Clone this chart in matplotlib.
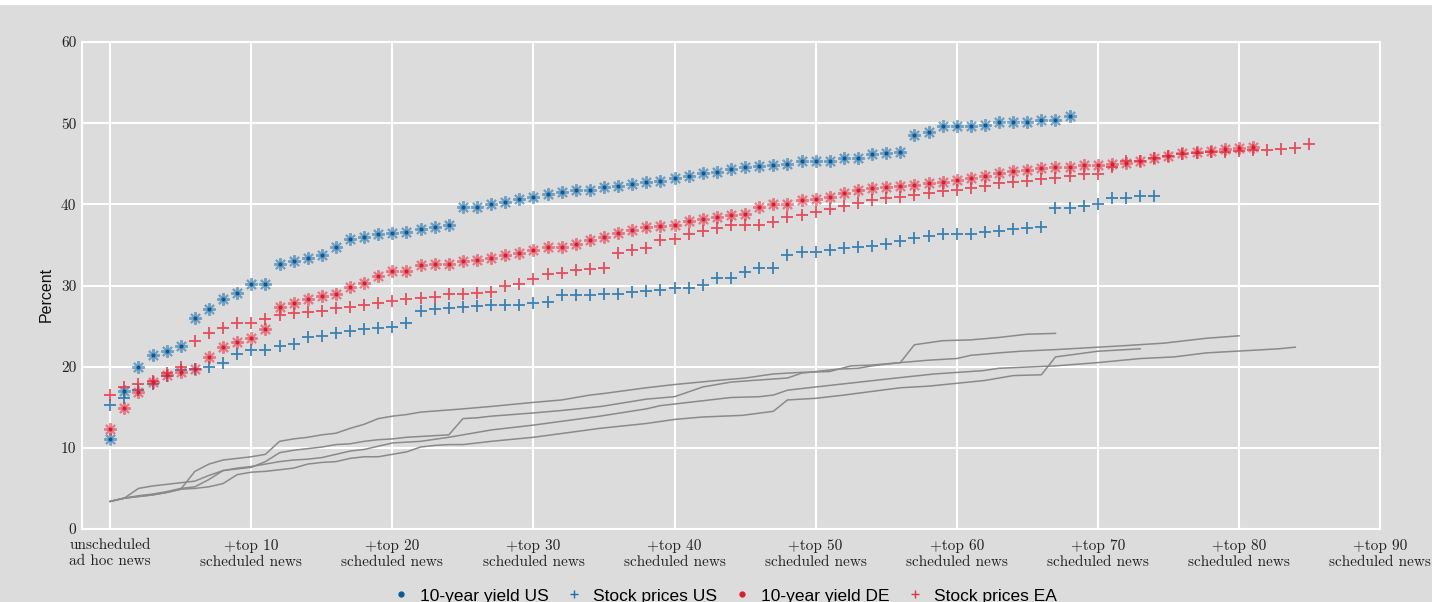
import matplotlib
matplotlib.use('Agg')
import matplotlib.pyplot as plt
from matplotlib.lines import Line2D
from matplotlib.patches import Rectangle

# ---------------- data ----------------
x_ticks = [0, 10, 20, 30, 40, 50, 60, 70, 80, 90]
x_tick_labels = ["unscheduled\nad hoc news"] + ["+top %d\nscheduled news" % v for v in [10, 20, 30, 40, 50, 60, 70, 80, 90]]
y_ticks = [0, 10, 20, 30, 40, 50, 60]
y_tick_labels = ["0", "10", "20", "30", "40", "50", "60"]

series_names = ["10-year yield US", "Stock prices US", "10-year yield DE", "Stock prices EA"]

us_yield = [11.1, 17.0, 19.9, 21.4, 21.9, 22.5, 26.0, 27.1, 28.3, 29.1, 30.2, 30.2, 32.6, 33.0, 33.4,
            33.8, 34.7, 35.7, 36.0, 36.4, 36.5, 36.6, 36.9, 37.2, 37.5, 39.7, 39.7, 40.0, 40.3, 40.6,
            40.9, 41.3, 41.5, 41.8, 41.8, 42.1, 42.2, 42.5, 42.7, 42.9, 43.2, 43.5, 43.8, 44.0, 44.4,
            44.6, 44.7, 44.9, 45.0, 45.3, 45.3, 45.4, 45.7, 45.7, 46.2, 46.3, 46.4, 48.6, 48.9, 49.6,
            49.6, 49.7, 49.8, 50.1, 50.2, 50.2, 50.4, 50.4, 50.9]

us_stock = [15.3, 16.2, 17.1, 17.9, 18.9, 19.6, 19.7, 20.0, 20.5, 21.6, 22.0, 22.0, 22.5, 22.8, 23.6,
            23.8, 24.2, 24.4, 24.7, 24.8, 24.9, 25.4, 26.9, 27.1, 27.2, 27.3, 27.5, 27.6, 27.6, 27.6,
            27.9, 28.0, 28.8, 28.8, 28.8, 29.0, 29.0, 29.2, 29.3, 29.5, 29.7, 29.7, 30.1, 30.9, 30.9,
            31.7, 32.2, 32.2, 33.8, 34.1, 34.1, 34.4, 34.6, 34.8, 34.9, 35.1, 35.5, 35.8, 36.1, 36.3,
            36.4, 36.4, 36.6, 36.7, 37.0, 37.1, 37.2, 39.5, 39.6, 39.8, 40.1, 40.8, 40.8, 41.0, 41.0]

de_yield = [12.3, 14.9, 16.9, 18.1, 19.0, 19.3, 19.7, 21.2, 22.4, 23.1, 23.5, 24.6, 27.3, 27.8, 28.3,
            28.7, 29.0, 29.8, 30.3, 31.2, 31.8, 31.8, 32.5, 32.6, 32.6, 33.0, 33.1, 33.4, 33.8, 34.0,
            34.4, 34.7, 34.8, 35.1, 35.6, 36.0, 36.5, 36.8, 37.2, 37.3, 37.5, 37.9, 38.2, 38.4, 38.7,
            38.8, 39.7, 40.0, 40.1, 40.5, 40.6, 40.9, 41.4, 41.8, 42.0, 42.1, 42.2, 42.4, 42.6, 42.7,
            43.0, 43.3, 43.5, 43.8, 44.1, 44.2, 44.5, 44.6, 44.6, 44.8, 44.9, 45.0, 45.1, 45.3, 45.7,
            46.0, 46.3, 46.4, 46.6, 46.8, 46.9, 47.1]

ea_stock = [16.5, 17.5, 17.9, 18.2, 19.2, 19.9, 23.2, 24.1, 24.8, 25.4, 25.4, 25.9, 26.4, 26.6, 26.7,
            26.9, 27.2, 27.4, 27.6, 27.9, 28.1, 28.3, 28.5, 28.6, 28.9, 29.0, 29.1, 29.2, 29.9, 30.2,
            30.8, 31.4, 31.6, 31.9, 32.0, 32.2, 34.0, 34.4, 34.6, 35.6, 35.7, 36.3, 36.7, 37.1, 37.5,
            37.5, 37.5, 37.8, 38.4, 38.7, 39.0, 39.4, 39.8, 40.2, 40.5, 40.8, 40.9, 41.1, 41.4, 41.6,
            41.8, 42.0, 42.2, 42.6, 42.7, 42.9, 43.1, 43.3, 43.5, 43.7, 43.7, 44.6, 45.3, 45.3, 45.7,
            46.0, 46.2, 46.3, 46.5, 46.5, 46.6, 46.7, 46.7, 46.8, 47.0, 47.4]

# grey benchmark lines (vertex positions and values)
bench1_x = [0, 1, 2, 3, 4, 5, 6, 7, 8, 9, 10, 11, 12, 13, 14, 15, 16, 17, 18, 19, 20, 21, 22, 25, 27,
            30, 32, 34, 35, 38, 40, 43, 45, 47, 49, 51, 52.5, 54, 56, 57, 59, 61, 63, 65, 67]
bench1_y = [3.4, 3.8, 4.0, 4.2, 4.5, 4.9, 7.1, 8.0, 8.5, 8.7, 8.9, 9.2, 10.8, 11.1, 11.3, 11.6, 11.8,
            12.4, 12.9, 13.6, 13.9, 14.1, 14.4, 14.8, 15.1, 15.6, 15.9, 16.5, 16.7, 17.4, 17.8, 18.3,
            18.6, 19.1, 19.3, 19.4, 20.1, 20.2, 20.5, 22.7, 23.2, 23.3, 23.6, 24.0, 24.1]

bench2_x = [0, 1, 2, 3, 4, 5, 6, 7, 8, 9, 10, 11, 12, 13, 14, 15, 16, 17, 18, 19, 20, 21, 22, 23, 24,
            25, 26, 27, 30, 33, 34.7, 38, 40, 42, 44.8, 47, 48, 50, 52, 56, 58, 62, 64, 66, 67, 70, 73]
bench2_y = [3.4, 3.8, 4.0, 4.2, 4.5, 4.9, 5.0, 5.2, 5.6, 6.7, 7.0, 7.1, 7.3, 7.5, 8.0, 8.2, 8.3, 8.7,
            8.9, 8.9, 9.2, 9.5, 10.1, 10.3, 10.4, 10.4, 10.6, 10.8, 11.3, 12.0, 12.4, 13.0, 13.5, 13.8,
            14.0, 14.5, 15.9, 16.1, 16.5, 17.4, 17.6, 18.3, 18.9, 19.0, 21.2, 21.9, 22.2]

bench3_x = [0, 1, 2, 3, 4, 5, 6, 7, 8, 9, 10, 11, 12, 13, 14, 15, 16, 17, 18, 19, 20, 21, 22, 24, 25,
            26, 27, 30, 32, 34.8, 38, 40, 42, 44, 45.5, 48, 49, 51.6, 53, 54, 56, 58, 60, 61, 63, 64.5,
            67, 70, 72, 74.7, 77.7, 80]
bench3_y = [3.4, 3.8, 5.0, 5.3, 5.5, 5.7, 5.9, 6.6, 7.2, 7.4, 7.6, 8.3, 9.4, 9.7, 9.9, 10.1, 10.4, 10.5,
            10.8, 11.0, 11.1, 11.3, 11.4, 11.6, 13.6, 13.7, 13.9, 14.3, 14.6, 15.1, 16.0, 16.3, 17.5,
            18.1, 18.3, 18.6, 19.2, 19.7, 19.8, 20.1, 20.5, 20.8, 21.0, 21.4, 21.7, 21.9, 22.1, 22.4,
            22.6, 22.9, 23.5, 23.8]

bench4_x = [0, 1, 2, 3, 4, 5, 6, 7, 8, 9, 10, 11, 12, 13, 14, 15, 16, 17, 18, 19, 20, 22, 24, 27, 30,
            34.7, 38, 39, 41.5, 44, 46, 47, 48, 50, 52.6, 55.7, 58.4, 61.8, 63, 67, 70, 73, 75.4, 77.7,
            80.8, 82.8, 84]
bench4_y = [3.4, 3.8, 4.1, 4.3, 4.6, 5.0, 5.2, 6.1, 7.2, 7.5, 7.7, 8.0, 8.3, 8.5, 8.6, 8.8, 9.2, 9.6,
            9.8, 10.2, 10.6, 10.8, 11.3, 12.2, 12.8, 13.9, 14.8, 15.2, 15.7, 16.2, 16.3, 16.5, 17.1,
            17.5, 18.0, 18.6, 19.1, 19.5, 19.8, 20.1, 20.5, 21.0, 21.2, 21.7, 22.0, 22.2, 22.4]

# ---------------- style ----------------
BG = '#dcdcdc'
BLUE = '#1f6fab'
BLUE_DARK = '#0b5a96'
RED = '#e63446'
RED_DARK = '#d91c34'
GREY = '#8a8a8a'
SERIF = 'cmr10'
SANS = ['Liberation Sans', 'DejaVu Sans']

fig = plt.figure(figsize=(14.32, 6.02), dpi=100, facecolor=BG)
fig.patches.append(Rectangle((0, 1 - 5 / 602), 1, 5 / 602, transform=fig.transFigure,
                             facecolor='white', edgecolor='none', zorder=10))

ax = fig.add_axes([82 / 1432, 73 / 602, (1380 - 82) / 1432, 487 / 602])
ax.set_facecolor(BG)

for bx, by in [(bench1_x, bench1_y), (bench2_x, bench2_y), (bench3_x, bench3_y), (bench4_x, bench4_y)]:
    ax.plot(bx, by, color=GREY, lw=1.1, zorder=2, solid_joinstyle='round')

AST = (8, 2, 0)


def star_series(vals, col, dark):
    xs = list(range(len(vals)))
    ax.plot(xs, vals, ls='none', marker=AST, ms=9, mew=1.5, color=col, alpha=0.55, zorder=3)
    ax.plot(xs, vals, ls='none', marker='o', ms=3.0, mew=0, color=dark, zorder=4)


def plus_series(vals, col):
    xs = list(range(len(vals)))
    ax.plot(xs, vals, ls='none', marker='+', ms=9, mew=1.3, color=col, alpha=0.85, zorder=3)


star_series(us_yield, BLUE, BLUE_DARK)
plus_series(us_stock, BLUE)
star_series(de_yield, RED, RED_DARK)
plus_series(ea_stock, RED)

ax.set_xlim(-2, 90)
ax.set_ylim(0, 60)
ax.set_xticks(x_ticks)
ax.set_xticklabels(x_tick_labels, fontfamily=SERIF, fontsize=11, color='#222222', linespacing=1.2)
ax.set_yticks(y_ticks)
ax.set_yticklabels(y_tick_labels, fontfamily=SERIF, fontsize=11, color='#222222')
ax.tick_params(length=0)
ax.tick_params(axis='x', pad=7)
ax.tick_params(axis='y', pad=4)
ax.grid(True, color='white', lw=1.5)
ax.set_axisbelow(True)
for s in ax.spines.values():
    s.set_color('white')
    s.set_linewidth(1.5)

ax.set_ylabel('Percent', fontfamily=SANS, fontsize=11.5, color='#111111', labelpad=5)
ax.yaxis.label.set_y(0.4825)

handles = [
    Line2D([], [], ls='none', marker='o', ms=3.5, color=BLUE_DARK),
    Line2D([], [], ls='none', marker='+', ms=6, mew=1.0, color=BLUE),
    Line2D([], [], ls='none', marker='o', ms=3.5, color=RED_DARK),
    Line2D([], [], ls='none', marker='+', ms=6, mew=1.0, color=RED),
]
fig.legend(handles, series_names, loc='center', bbox_to_anchor=(0.506, 0.010), ncol=4,
           frameon=False, prop={'family': SANS, 'size': 12.5}, handlelength=1.0,
           handletextpad=0.6, columnspacing=0.95, borderaxespad=0)

fig.savefig('out.png', dpi=100, facecolor=BG)
